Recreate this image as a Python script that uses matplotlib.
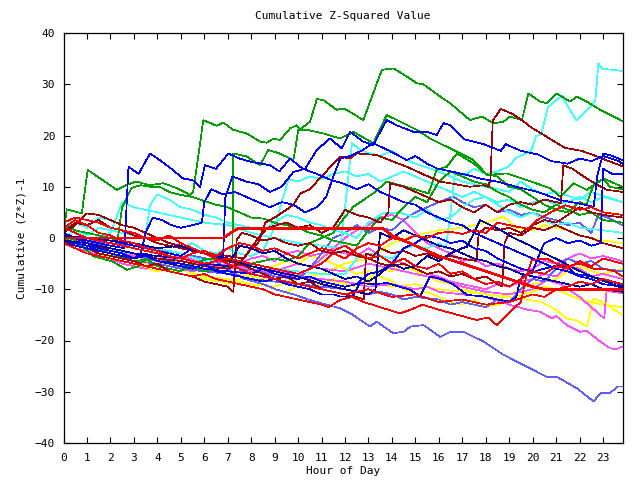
import matplotlib
matplotlib.use("Agg")
import matplotlib.pyplot as plt

# ---------------- data (hour, cumulative value) ----------------
green_a = [(0,1.0),(0.14,5.6),(0.78,4.8),(1.03,13.3),(1.6,11.5),(2.27,9.4),(2.7,10.4),(3.1,11.0),(3.69,10.3),(4.26,10.7),(4.9,9.6),(5.39,8.4),(5.53,9.0),(5.96,23.0),(6.53,21.9),(6.82,22.5),(7.24,21.1),(7.81,20.4),(8.38,18.8),(8.66,18.6),(8.95,19.4),(9.23,19.1),(9.66,21.4),(9.94,22.0),(10.09,21.2),(10.37,22.2),(10.51,22.7),(10.8,27.1),(11.08,26.9),(11.65,25.0),(11.93,25.3),(12.22,24.6),(12.78,23.0),(13.57,32.8),(14.06,33.1),(14.64,31.5),(15.06,30.2),(15.34,30.0),(16.06,27.6),(16.48,26.3),(17.33,23.0),(17.83,23.7),(18.33,22.4),(18.76,22.7),(19.04,23.7),(19.54,23.0),(19.82,28.2),(20.32,26.6),(20.6,26.3),(21.03,28.2),(21.6,26.6),(21.88,27.6),(22.31,26.6),(22.88,25.0),(23.83,22.8)]
green_b = [(0,2.5),(0.5,1.5),(1,1),(1.5,0.5),(2,0),(2.3,-0.5),(2.5,6),(2.9,9.8),(3.3,10.3),(3.7,10),(4.1,10),(4.5,9),(5,8.4),(5.5,8),(6,7.2),(6.5,6.5),(7,6),(7.5,5),(8,4),(8.5,3.8),(9,3),(9.5,2.5),(10,2),(10.5,1),(11,0.5),(11.5,-0.5),(12,-1),(12.5,-1.5),(13,1.5),(13.5,4),(14,3.5),(14.5,6),(15,8),(15.5,7),(16,11),(16.5,13),(17,12),(17.5,11),(18,10.5),(18.5,9),(19,8),(19.5,6.5),(20,5.5),(20.5,5),(21,6.5),(21.5,5.5),(22,4.5),(22.5,5),(23,3.5),(23.83,3)]
green_c = [(0,0.5),(0.5,-0.5),(1.3,-3.6),(2.1,-4.6),(2.7,-6.2),(3.2,-5.5),(3.5,-4),(4,-5.5),(5,-6.5),(5.5,-5),(6.2,-4),(6.9,-4.5),(7.2,-3.8),(7.24,16.5),(7.81,15.9),(8.38,14.2),(8.73,17.2),(9.2,16.5),(9.8,15.2),(10.01,21.1),(10.37,21.1),(11.08,20.4),(11.79,19.4),(12.36,20.7),(13.21,18.5),(13.78,24),(14.35,22.7),(15.06,21.1),(15.63,19.4),(16.34,17.8),(17.48,15.2),(18.05,12.3),(18.9,12.6),(19.75,11.3),(20.75,9.7),(21.17,8.1),(21.74,10.7),(22.31,9.4),(23.02,11.6),(23.83,10)]
green_d = [(0,0),(0.5,-1),(1,-1.5),(2,-3),(3,-4.5),(4,-4),(5,-5),(6,-6.5),(7,-5.5),(8,-5),(9,-4),(9.5,-4.5),(10,-3.5),(10.5,-1),(11,0),(11.5,1),(11.79,2.9),(12.36,6.1),(13.2,8.7),(13.78,11),(15.06,9.4),(15.56,8.7),(15.91,13.3),(16.34,13.9),(16.77,16.5),(17.5,14.5),(18,12.5),(18.5,12),(19,10),(19.5,9.5),(20,8),(20.5,6.5),(21,5.5),(21.5,5),(22,7),(22.3,6.5),(22.6,10.5),(23,11.5),(23.3,10),(23.83,9.5)]

cyan_a = [(0,0),(1,-1.5),(2,-2.5),(3,-3),(3.7,-3.5),(4,-2),(5,-3),(6,-4.5),(7,-4),(8,-5),(9,-6),(10,-6.5),(11,-7),(12,-7),(12.5,-4),(13,-3),(13.5,-3.5),(14,-4),(14.5,-2),(15,-1.5),(15.5,-2),(16,-1),(16.3,-2),(16.5,5),(16.7,13),(17,12),(17.5,13.5),(18,12.5),(18.5,13),(19,14),(19.28,15.6),(19.93,17),(20.15,19.9),(20.36,20.2),(20.65,25.5),(21.23,27.8),(21.87,22.9),(22.37,25.2),(22.67,26.8),(22.8,34),(23.0,33),(23.83,32.6)]
cyan_b = [(0,0.5),(1,-0.5),(2,1),(2.5,7),(3,6),(4,5),(5,4),(6,3),(7,2.5),(8,1),(9,0),(10,-1),(11,-1.5),(11.8,-2),(12.0,6),(12.3,18.5),(12.7,17),(13.5,16),(14,17),(14.5,15.5),(15,14.5),(16,13),(17,11),(18,10),(19,9),(19.5,11),(20,9.5),(20.5,8.5),(21,9),(22,7.5),(22.5,9),(23.83,7)]
cyan_c = [(0,1.5),(0.5,3),(1,2),(1.5,4),(2,3.5),(2.5,2.5),(3,2),(3.5,1),(3.7,6.5),(4,8.5),(4.5,7.5),(5,6),(5.5,5.5),(6,4.5),(6.5,4),(7,3),(7.5,2.5),(8,2),(8.5,1.5),(9,3),(9.5,4.5),(10,4),(10.5,3),(11,2.5),(11.5,1.5),(12,1),(12.5,0),(13,3),(13.6,4.8),(14.3,5),(15,4),(15.5,5.5),(16,3.5),(16.5,4),(17,6),(17.5,7.5),(18,8),(18.5,6.5),(19,5),(19.5,4),(20,5),(20.5,3.5),(21,2.5),(21.5,3),(22,2),(23,1.5),(23.83,1)]
cyan_d = [(0,0),(0.5,1.5),(1,0.5),(1.5,2),(2,1.5),(2.5,1),(3,0.5),(3.5,0),(4,-1),(4.5,-1.5),(5,-2),(5.5,-1),(6,-2.5),(6.5,-3),(7,-2),(7.5,-3),(8,-3.5),(8.5,-2.5),(9,2),(9.3,7),(9.6,11.5),(10,11),(10.5,12),(11,11.5),(11.5,12.5),(12,13),(12.5,12),(13,12.5),(13.5,11),(14,12),(14.5,13),(15,12),(15.5,11),(16,10),(16.5,9),(17,8),(17.5,9),(18,8),(18.5,7),(19,7.5),(19.5,6),(20,7),(20.5,7.5),(21,6.5),(21.5,7),(22,8),(22.5,7),(23,8),(23.83,7)]

darkred_a = [(0,-0.5),(1,-1.5),(2,-2),(3,-3),(4,-4),(5,-4.5),(6,-5.5),(7,-6),(7.5,-5),(8,-2),(8.3,-1),(8.6,3),(9,4),(9.5,5.5),(9.8,6.5),(10.1,8.7),(10.5,9.5),(11,12),(11.5,14.5),(11.79,15.9),(12.2,15.5),(12.5,16.5),(13.36,16.2),(14,15),(14.64,13.9),(15.3,12.5),(16.06,11),(16.7,10.5),(17.33,10),(17.9,10.3),(18.1,10),(18.2,11.4),(18.3,22.9),(18.64,25.2),(19.14,24.2),(19.57,22.9),(19.93,21.6),(20.65,19.6),(21.37,17.6),(22.09,17),(22.52,16.3),(23.24,15),(23.83,14)]
darkred_b = [(0,1),(0.5,3),(1,2.5),(1.5,3.5),(2,2),(2.5,1.5),(3,0.5),(3.5,0),(4,-1),(5,-2),(6,-3),(7,-3.5),(7.7,-4),(8,-2),(8.3,0),(8.7,2),(9.5,3),(10,2),(10.5,2.5),(11,1),(11.5,2),(12,5.5),(12.5,4.5),(13,4),(13.5,3),(13.85,5),(13.92,10.7),(14.5,10),(15,9),(15.5,8),(16,7),(16.5,7.5),(17,6),(17.5,5),(18,6.5),(18.5,5),(19,6.5),(19.5,7),(20,6.5),(20.5,7.5),(21,7),(21.2,6.8),(21.31,14.2),(21.7,13.5),(22.17,12),(22.7,10.5),(23.16,9.4),(23.83,9)]
darkred_c = [(0,1),(0.5,2.5),(1,4.8),(1.5,4.5),(2,3.5),(2.5,2.5),(3,2),(3.5,1),(4,0),(4.5,-1),(5,-1.5),(5.5,-2.5),(6,-3),(6.5,-4),(7,-4.5),(7.5,-5),(8,-6),(8.5,-7),(9,-8),(9.5,-7.5),(10,-9),(10.5,-8.5),(11,-10),(11.5,-10.5),(12,-11),(12.5,-11.5),(12.8,-12),(12.9,-3),(13.2,-3.5),(13.5,-2),(14,-3),(14.5,-2.5),(15,-3.5),(15.5,-3),(16,-4),(16.5,-3.5),(17,-4),(17.6,-4.5),(17.7,1),(18,2),(18.5,1.5),(19,2),(19.5,1),(20,2.5),(20.5,3.5),(21,3),(21.5,4.5),(22,6),(22.5,5),(23,4.5),(23.83,4)]
darkred_d = [(0,-0.5),(0.5,-1.5),(1,-2),(1.5,-3),(2,-3.5),(2.5,-4),(3,-4.5),(3.5,-5.5),(4,-5),(4.5,-6.5),(5,-7),(5.5,-7.5),(6,-8.5),(6.5,-9),(7,-9.5),(7.24,-10.5),(7.38,-0.4),(7.6,1),(8,0.5),(8.5,-0.5),(9,0),(9.5,-1),(10,-1.5),(10.5,-1),(11,-2.5),(11.5,-3),(12,-2.5),(12.5,-3.5),(13,-4),(13.5,-5),(14,-5.5),(14.5,-5),(15,-6),(15.5,-7),(16,-6.5),(16.5,-7.5),(17,-7),(17.5,-8),(18,-7.5),(18.5,-9),(18.7,-9.5),(18.8,-1),(19,1),(19.5,0.5),(20,2),(20.5,1.5),(21,2.5),(21.5,1.5),(22,0.5),(22.5,0),(23,-1),(23.83,-2)]

red_flat = [(0,0),(6.8,0),(7.45,1.9),(13.6,1.9),(14,0.5),(15,-1.5),(16,-3.5),(17,-5),(18,-6.5),(19,-8),(20,-9.5),(20.6,-10.1),(23.83,-10.1)]
red_b = [(0,-1),(0.5,-2),(1,-3),(1.5,-3.5),(2,-4),(2.5,-4.5),(3,-5),(3.5,-5.5),(4,-6),(4.5,-6.5),(5,-7),(5.5,-7.5),(6,-7),(6.5,-8),(7,-8.5),(7.5,-9),(8,-9.5),(8.5,-10),(9,-11),(9.5,-11.5),(10,-12),(10.5,-12.5),(11,-13),(11.3,-13.5),(11.79,-12.1),(12.3,-11.5),(12.8,-12.5),(13.5,-13.5),(14.35,-14.7),(14.8,-14),(15.3,-13),(16,-14),(16.8,-15),(17.62,-16),(18.1,-15.5),(18.47,-17),(19.18,-13.7),(19.5,-12.5),(19.7,-8),(19.97,-4.3),(20.6,-4),(21,-5),(21.5,-5.5),(22,-5),(22.6,-6),(23,-6),(23.5,-6.5),(23.83,-7.5)]
red_c = [(0,2),(0.5,1),(1,0),(1.5,-0.5),(2,-1),(3,-2),(4,-3),(5,-4),(6,-5),(7,-4),(8,-5),(9,-6),(10,-7),(11,-5),(11.5,-3),(12,-4),(12.5,-2),(13,-1),(13.5,-1.5),(14,0),(14.5,-0.5),(15,0.5),(15.5,0),(16,1),(16.5,1.2),(17,0.8),(17.5,1.5),(18,1),(18.5,3),(19,2.5),(19.8,1.8),(20.2,3.5),(20.8,5.1),(21.4,6.4),(22,5.5),(22.5,6),(23,5),(23.83,4.5)]
red_d = [(0,3),(0.5,4),(1,3.5),(1.5,3),(2,2),(2.5,1.5),(3,1),(3.5,0),(4,-0.5),(4.5,0.5),(5,-1),(5.5,-2),(6,-3),(6.5,-4),(7,-5),(7.5,-6),(8,-7),(8.5,-7.5),(9,-8),(9.5,-8.5),(10,-9),(11,-10),(12,-11),(13,-10),(14,-11.5),(15,-11),(16,-12.5),(17,-12),(18,-13),(19,-12.5),(20,-11),(20.5,-11.5),(21,-10),(21.5,-9.5),(22,-8.5),(22.5,-9),(23,-8),(23.83,-9)]
red_e = [(0,2),(0.5,3.5),(1,2.5),(1.5,1),(2,0.5),(2.5,-0.5),(3,-1),(3.5,-2),(4,-2.5),(4.5,-3.5),(5,-4),(5.5,-3),(6,-2.5),(6.5,-3.5),(7,-2),(7.5,-1),(8,-1.5),(8.5,-2.5),(9,-2),(9.5,-3),(10,-4),(10.5,-3),(11,-2),(11.5,-2.5),(12,-1.5),(12.5,-3),(13,-4),(13.5,-3.5),(14,-5),(14.5,-4),(15,-5.5),(15.5,-6),(16,-5),(16.5,-7),(17,-6.5),(17.5,-8),(18,-9),(18.5,-8.5),(19,-9.5),(19.5,-8),(20,-6.5),(20.5,-7),(21,-5.5),(21.5,-6),(22,-4.5),(22.5,-5.5),(23,-4),(23.83,-5)]

blue_a = [(0,1),(0.5,0),(1,-0.5),(1.5,-1),(2,-1.5),(2.6,-2),(2.77,13.9),(3.2,12.5),(3.69,16.5),(4.1,15.2),(4.6,13.5),(5.1,11.6),(5.5,11.3),(5.82,10),(6.03,14.2),(6.5,13.5),(7.03,16.5),(7.5,15.5),(7.95,14.9),(8.8,14.2),(9.2,13),(9.66,15.5),(10.2,13.5),(10.8,12.5),(11.3,11.5),(12,10.5),(12.5,9.5),(13,10.5),(13.5,9),(14,8),(14.5,7),(15,6.5),(15.5,5),(16,4),(16.5,3),(17,2.5),(17.5,1),(18,0),(18.5,-1),(19,-2),(19.5,-3),(20,-4),(20.5,-5),(21,-6),(21.5,-6.5),(22,-7.5),(22.5,-8),(23,-9),(23.83,-9.5)]
blue_b = [(0,0.5),(1,0),(2,-0.5),(3,-1.5),(4,-2.5),(5,-3.5),(5.5,-2),(6,-3),(6.8,-4),(6.9,8),(7.2,12),(7.8,11),(8.3,10.5),(8.8,9),(9.3,10),(9.8,12.9),(10.3,13.5),(10.8,17.2),(11.36,19.4),(11.86,17.5),(12.22,20.7),(12.78,18.8),(13.21,18.1),(13.5,20.7),(13.78,23),(14.2,22),(14.92,20.7),(15.49,20.7),(15.91,20.1),(16.2,22.4),(16.48,22),(17.06,19.3),(17.92,18.3),(18.64,17),(18.85,18.3),(19.5,17),(20.22,16.3),(20.8,15),(21.5,14.5),(22,15.5),(22.5,15),(23,16),(23.67,15),(23.83,14.5)]
blue_c = [(0,-0.5),(0.5,-1),(1,-1.5),(1.5,-2.5),(2,-3),(2.5,-3.5),(3,-4),(3.3,-3),(3.5,1),(3.8,4),(4.2,3.5),(4.6,2.5),(5,2),(5.5,2.5),(5.9,3),(6,7),(6.3,9.5),(6.8,8.5),(7.3,9),(7.8,8),(8.3,7),(8.8,6),(9.3,7),(9.8,6.5),(10.3,5),(10.8,6),(11.2,8),(11.5,12),(11.8,15.5),(12.2,16),(12.7,17),(13.2,18.5),(13.9,17),(14.64,15.2),(15.0,16),(15.5,14.5),(15.9,13.6),(16.5,13),(17.2,12.3),(17.76,11.6),(18.5,11),(19.3,10),(20.2,9),(21.17,7.4),(21.9,6.8),(22.6,6.1),(22.75,12),(23,16.5),(23.4,16),(23.83,15.2)]
blue_d = [(0,1),(0.5,0),(1,-1),(1.5,-2),(2,-2.5),(2.5,-3),(3,-4),(3.5,-3.5),(4,-4.5),(4.5,-5),(5,-5.5),(5.5,-6),(6,-5),(6.5,-6.5),(7,-7),(7.5,-7.5),(8,-8),(8.5,-8.5),(9,-8),(9.5,-9),(10,-9.5),(10.5,-10),(11,-11),(11.5,-11),(11.79,-11.4),(12.3,-11.5),(12.64,-8.8),(13.2,-9),(13.8,-8.8),(14.78,-10.1),(15.2,-11.4),(15.63,-7.5),(16.1,-8),(16.6,-9),(17.2,-11.1),(17.9,-11.4),(18.5,-12),(19.04,-12.4),(19.3,-11.5),(19.4,-9.5),(19.54,-7.5),(20.3,-6.2),(20.9,-5.5),(21.5,-5.5),(21.8,-7),(22.5,-7.5),(23.1,-8.2),(23.83,-9.2)]
blue_e = [(0,-1),(1,-2),(2,-3),(3,-4),(3.5,-3),(4,-4.5),(5,-5),(6,-6),(7,-6.5),(8,-7),(8.5,-6),(9,-7),(10,-8),(10.5,-7.5),(11,-8.5),(12,-9.5),(12.5,-9),(13,-7),(13.5,-6.5),(14,-5),(14.5,-2),(15,-1),(15.5,0.5),(16,0),(16.5,-1),(17,-0.5),(17.5,-2),(18,-2.5),(18.5,-4),(19,-5),(19.5,-6),(20,-6.5),(20.3,-3),(20.5,-1),(21,0),(21.5,-1),(22,-0.5),(22.5,-1.5),(22.9,-1),(23.0,13.5),(23.4,12.5),(23.83,12.5)]
navy_a = [(0,-0.5),(1,-1),(2,-2),(3,-3),(4,-3.5),(5,-4),(6,-5),(7,-5.5),(7.3,-3),(7.5,-1.5),(8,-2),(8.5,-3),(9,-2.5),(9.5,-4),(10,-5),(10.5,-5.5),(11,-6),(11.5,-7),(12,-8),(12.5,-7.5),(13,-8.5),(13.5,-7),(14,-5),(14.5,-6),(15,-5.5),(15.5,-3.5),(16,-4.5),(16.5,-3),(17,-2),(17.2,-1.7),(17.5,1),(17.76,3.5),(18.2,2.5),(18.62,1.6),(19.2,0),(19.9,-1.5),(20.5,-3),(21.2,-4.5),(21.8,-6),(22.5,-7.5),(23.1,-8.5),(23.83,-9.8)]
navy_b = [(0,0.5),(1,0),(2,-0.5),(3,-1),(4,-2),(5,-1.5),(6,-3),(7,-4),(8,-5.5),(9,-6.5),(10,-7.5),(11,-9),(12,-10),(12.5,-10.5),(13,-11),(13.3,-10),(13.4,-4),(13.5,1),(14,0),(14.5,1.5),(15,0.5),(15.5,-0.5),(16,-1.5),(16.5,-2),(17,-3),(17.5,-4),(18,-4.5),(18.5,-5.5),(19,-6),(19.5,-7),(20,-7.5),(20.5,-8),(21,-8.5),(21.5,-9),(22,-9.5),(22.5,-9),(23,-10),(23.83,-10.5)]

slate_a = [(0,0),(1,-0.5),(2,-1),(3,-1.5),(4.1,-2.3),(5,-3),(6.4,-4.3),(7,-6),(7.67,-7.9),(8.5,-9),(9.1,-10.1),(9.8,-11),(10.5,-12.1),(11.2,-13),(11.79,-13.7),(12.3,-14.9),(13.07,-17.3),(13.35,-16.3),(14.06,-18.6),(14.5,-18.3),(14.78,-17.3),(15.35,-17),(16.06,-19.3),(16.5,-18.3),(17.05,-18.3),(17.9,-20.2),(18.76,-22.8),(19.75,-25.1),(20.6,-27.1),(21.03,-27.1),(21.88,-29.3),(22.6,-31.9),(22.88,-30.3),(23.3,-30.3),(23.6,-29),(23.83,-29)]
slate_b = [(0,0),(0.5,-1),(1,-2),(1.5,-2.5),(2,-3),(3,-4.5),(4,-5),(5,-6),(6,-6.5),(7,-7),(8,-6),(9,-7.5),(10,-8),(10.5,-6),(11,-3),(11.5,0),(12,1),(12.5,2.5),(13,1),(13.5,2),(14,1.5),(14.5,3.5),(15,5),(15.5,6),(16,7),(16.6,8.1),(17,7),(17.5,6),(18,6.5),(18.5,5),(19,5.5),(19.5,4.5),(20,5),(20.5,4),(21,3.5),(21.5,2.5),(22,3),(22.5,1),(22.8,4.5),(23.2,4),(23.83,2.5)]
slate_c = [(0,0.5),(1,-0.5),(2,-2),(3,-3),(4,-4.5),(5,-5.5),(6,-6),(7,-7),(8,-8),(9,-8.5),(10,-9),(11,-9.5),(12,-10),(13,-11),(13.5,-10.5),(14,-11),(14.5,-12),(15,-11.5),(16,-12),(16.5,-13),(17,-12.5),(18,-13.5),(18.5,-12),(19,-12.5),(19.5,-10),(20,-8),(20.5,-8.5),(21,-6),(21.5,-4),(22,-5),(22.5,-4.5),(23,-6),(23.83,-6.5)]

magenta_a = [(0,-0.5),(1,-1.5),(2,-2.5),(3,-3),(4,-4),(5,-5),(6,-6),(7,-5),(8,-6.5),(9,-6),(10,-7.5),(11,-8),(12,-8.5),(13,-9.5),(14,-9),(15,-10),(15.5,-9.5),(16,-10.5),(17,-11),(18,-11.5),(19,-13),(19.8,-14),(20.32,-14.4),(20.82,-15.7),(21.0,-15.2),(21.46,-17),(22.03,-18.3),(22.3,-18.1),(22.88,-20.2),(23.3,-21.5),(23.55,-21.7),(23.83,-21.2)]
magenta_b = [(0,0),(1,-1),(2,-2),(3,-3.5),(4,-4.5),(5,-3.5),(6,-5),(7,-6),(8,-5.5),(9,-6.5),(10,-5),(11,-6),(12,-6.5),(13,-5),(14,-6),(15,-7),(16,-8),(17,-9.5),(18,-10.5),(19,-11),(20,-10),(20.6,-8.2),(21.2,-9),(22,-11.5),(22.5,-13.5),(23.05,-15.7),(23.15,-10.3),(23.83,-10.8)]
magenta_c = [(0,-1),(0.5,-2),(1,-2.5),(1.5,-3.5),(2,-4),(2.5,-5),(3,-5.5),(3.5,-6),(4,-5),(4.5,-4.5),(5,-6),(5.5,-6.5),(6,-6),(6.5,-5.5),(7,-6),(7.5,-5),(8,-4),(8.5,-3.5),(9,-4.5),(9.5,-3),(10,-2.5),(10.5,-3.5),(11,-3),(11.5,-2.5),(12,-3),(12.5,-3.5),(13,-2),(13.5,-3.5),(14,-4),(14.5,-5),(15,-6),(15.5,-7),(16,-7.5),(16.5,-8.5),(17,-9),(17.5,-9.5),(18,-10),(18.5,-9),(19,-9.5),(19.5,-8.5),(20,-8),(20.5,-7),(21,-7.5),(21.5,-5.5),(22,-6),(22.5,-7.5),(23,-7),(23.83,-8)]
magenta_d = [(0,0),(1,-1),(2,-2),(3,-3),(4,-3.5),(5,-4.5),(6,-5),(7,-4.5),(8,-6),(9,-7),(10,-7.5),(10.5,-6),(11,-4),(11.5,-2),(12,0),(12.5,1.5),(13,2.5),(13.5,4),(14,4.5),(14.5,3.5),(15,1),(15.5,-1),(16,-2),(16.5,-3),(17,-4.5),(17.5,-4),(18,-5.5),(18.5,-5),(19,-6),(19.5,-6.5),(20,-6),(20.5,-4.5),(21,-5),(21.5,-4),(22,-3),(22.5,-4),(23,-3.5),(23.83,-4.5)]

yellow_a = [(0,-0.5),(1,-2),(2,-3),(3,-4),(4,-5),(5,-5.5),(6,-6.5),(7,-7),(8,-7.5),(9,-8.5),(10,-9),(11,-8),(12,-9),(13,-8.5),(14,-9.5),(15,-9),(16,-10),(17,-10.5),(18,-11),(19,-11.5),(19.7,-12),(20.32,-12.4),(20.89,-13.7),(21.46,-15.7),(21.9,-16.1),(22.31,-17.3),(22.6,-11.8),(23.0,-12.5),(23.83,-15)]
yellow_b = [(0,0),(1,-1.5),(2,-3),(3,-4),(4,-5),(5,-6),(6,-7.5),(7,-8),(8,-9),(9,-9.5),(10,-8),(11,-7),(12,-5),(13,-4),(14,-1),(15,0.5),(16,1.5),(17,2),(18,3),(18.76,4.2),(19.3,2),(20,1.5),(20.5,2.5),(21.5,1.5),(22,0.5),(23,-0.5),(23.83,-1)]
yellow_c = [(0,-0.5),(0.5,-1.5),(1,-2),(1.5,-3),(2,-4),(2.5,-4.5),(3,-5),(3.5,-6),(4,-6.5),(4.5,-6),(5,-7),(5.5,-7.5),(6,-8),(6.5,-8.5),(7,-8),(7.5,-9),(8,-9.5),(8.5,-9),(9,-10),(9.5,-10.5),(10,-9.5),(10.5,-10),(11,-9),(11.5,-8),(12,-9),(12.5,-9.5),(13,-8),(13.5,-6),(14,-6.5),(14.5,-5),(15,-6.5),(15.5,-7.5),(16,-8.5),(16.5,-9),(17,-10),(17.5,-10.5),(18,-11),(18.5,-12),(19,-11),(19.5,-10),(20,-9),(20.5,-8.5),(21,-8),(21.5,-6.5),(22,-5.5),(22.5,-6.5),(23,-7),(23.83,-6)]
yellow_d = [(0,-1),(0.5,-2),(1,-2.5),(1.5,-3.5),(2,-3),(2.5,-4),(3,-4.5),(3.5,-5),(4,-5.5),(4.5,-5),(5,-6),(5.5,-7),(6,-7.5),(6.5,-8),(7,-9),(7.5,-8),(8,-7),(8.5,-6),(9,-5.5),(9.5,-4.5),(10,-5),(10.5,-3.5),(11,-4),(11.5,-5),(12,-6),(12.5,-7),(13,-6.5),(13.5,-7.5),(14,-8.5),(14.5,-10),(15,-11),(15.5,-10.5),(16,-11.5),(16.5,-12.5),(17,-13),(17.5,-12),(18,-13.5),(18.5,-13),(19,-12.5),(19.5,-11),(20,-10.5),(20.5,-9.5),(21,-10),(21.5,-11),(22,-12),(22.5,-12.5),(23,-13),(23.83,-13.5)]

hour_ticks = list(range(0, 24))
value_ticks = [-40, -30, -20, -10, 0, 10, 20, 30, 40]

# ---------------- styling ----------------
RED, DRED, GREEN, BLUE = "#ff0000", "#a00000", "#00a000", "#0000ff"
NAVY, SLATE, CYAN, MAG, YEL = "#0000a8", "#6060ff", "#40ffff", "#ff50ff", "#ffff00"

series = [
    (yellow_a, YEL), (yellow_b, YEL), (yellow_c, YEL), (yellow_d, YEL),
    (magenta_a, MAG), (magenta_b, MAG), (magenta_c, MAG), (magenta_d, MAG),
    (slate_a, SLATE), (slate_b, SLATE), (slate_c, SLATE),
    (cyan_a, CYAN), (cyan_b, CYAN), (cyan_c, CYAN), (cyan_d, CYAN),
    (green_a, GREEN), (green_b, GREEN), (green_c, GREEN), (green_d, GREEN),
    (darkred_a, DRED), (darkred_b, DRED), (darkred_c, DRED), (darkred_d, DRED),
    (blue_a, BLUE), (blue_b, BLUE), (blue_c, BLUE), (blue_d, BLUE), (blue_e, BLUE),
    (navy_a, NAVY), (navy_b, NAVY),
    (red_b, RED), (red_c, RED), (red_d, RED), (red_e, RED),
]

FONT = ["DejaVu Sans Mono"]
plt.rcParams["font.family"] = FONT

fig = plt.figure(figsize=(6.4, 4.8), dpi=100)
L, R, B, T = 63.5, 622.5, 443, 33
ax = fig.add_axes([L / 640, 1 - B / 480, (R - L) / 640, (B - T) / 480])

for data, col in series:
    xs = [p[0] for p in data]
    ys = [p[1] for p in data]
    ax.plot(xs, ys, color=col, lw=0.5, antialiased=False)

xs = [p[0] for p in red_flat]
ys = [p[1] for p in red_flat]
ax.plot(xs, ys, color=RED, lw=1.2, antialiased=False)

ax.set_xlim(0, 23.83)
ax.set_ylim(-40, 40)
ax.set_xticks(hour_ticks)
ax.set_yticks(value_ticks)
ax.tick_params(direction="in", length=4.5, width=0.8, top=True, right=True,
               labelsize=8, colors="black")
ax.tick_params(axis="x", pad=7)
ax.tick_params(axis="y", pad=6)
for s in ax.spines.values():
    s.set_linewidth(0.9)
    s.set_color("black")

cx = (L + R) / 2 / 640
fig.text(cx, 1 - 16 / 480, "Cumulative Z-Squared Value", ha="center", va="center", fontsize=8)
fig.text(cx, 1 - 471 / 480, "Hour of Day", ha="center", va="center", fontsize=8)
fig.text(22 / 640, 1 - 238 / 480, "Cumulative (Z*Z)-1", ha="center", va="center",
         rotation=90, fontsize=8)

fig.savefig("out.png", dpi=100, facecolor="white")
